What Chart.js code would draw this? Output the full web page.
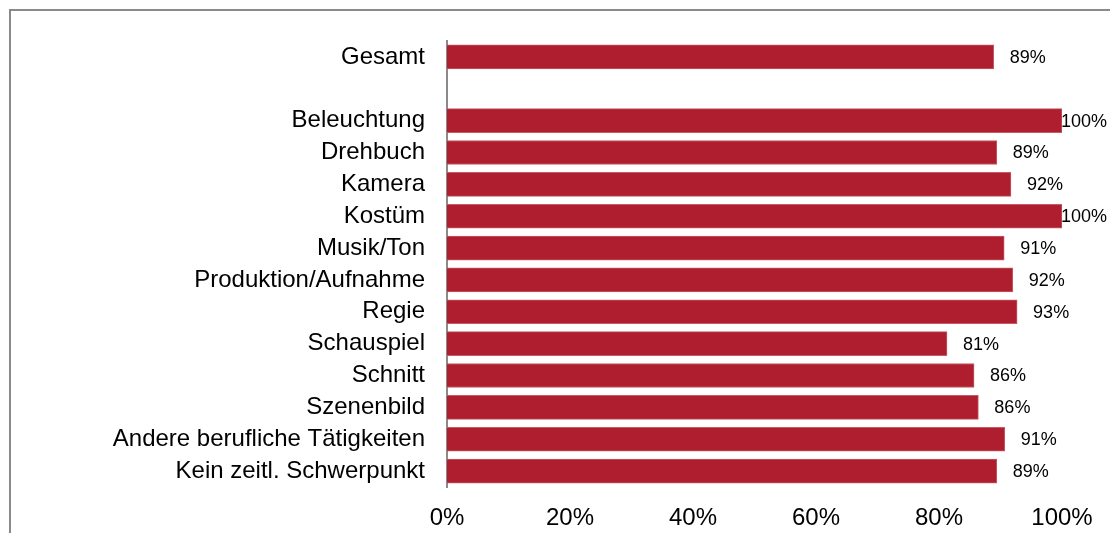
<!DOCTYPE html>
<html>
<head>
<meta charset="utf-8">
<script src="https://cdn.jsdelivr.net/npm/chart.js@4.4.1/dist/chart.umd.min.js"></script>
<style>
  html, body { margin: 0; padding: 0; background: #ffffff; }
  #wrap { width: 1110px; height: 533px; position: relative; }
</style>
</head>
<body>
<div id="wrap"><canvas id="c" width="1110" height="533"></canvas></div>
<script>
const categories = [
  'Gesamt', '',
  'Beleuchtung', 'Drehbuch', 'Kamera', 'Kostüm', 'Musik/Ton',
  'Produktion/Aufnahme', 'Regie', 'Schauspiel', 'Schnitt', 'Szenenbild',
  'Andere berufliche Tätigkeiten', 'Kein zeitl. Schwerpunkt'
];
const shares = [88.9, null, 100, 89.4, 91.7, 100, 90.6, 92.0, 92.7, 81.3, 85.7, 86.4, 90.7, 89.4];
const xTicks = [0, 20, 40, 60, 80, 100];

const FONT = "'Liberation Sans', Arial, 'DejaVu Sans', sans-serif";

const framePlugin = {
  id: 'frame',
  beforeDraw(chart) {
    const ctx = chart.ctx;
    ctx.save();
    ctx.strokeStyle = '#8a8a8a';
    ctx.lineWidth = 2;
    ctx.beginPath();
    ctx.moveTo(10, 533);
    ctx.lineTo(10, 10);
    ctx.lineTo(1110, 10);
    ctx.stroke();
    ctx.restore();
  }
};

const labelPlugin = {
  id: 'valueLabels',
  afterDatasetsDraw(chart) {
    const ctx = chart.ctx;
    const meta = chart.getDatasetMeta(0);
    ctx.save();
    ctx.font = '18px ' + FONT;
    ctx.fillStyle = '#000000';
    ctx.textBaseline = 'middle';
    ctx.textAlign = 'left';
    meta.data.forEach((bar, i) => {
      const v = shares[i];
      if (v === null || v === undefined) return;
      const txt = Math.round(v) + '%';
      const w = ctx.measureText(txt).width;
      let x = bar.x + 16;
      if (x + w > 1107) x = 1107 - w;
      ctx.fillText(txt, x, bar.y + 1);
    });
    ctx.restore();
  }
};

new Chart(document.getElementById('c'), {
  type: 'bar',
  data: {
    labels: categories,
    datasets: [{
      data: shares,
      backgroundColor: '#AE1E2E',
      borderColor: '#C65A66',
      borderWidth: 1,
      borderSkipped: 'start',
      barThickness: 24
    }]
  },
  options: {
    indexAxis: 'y',
    responsive: false,
    animation: false,
    devicePixelRatio: 1,
    layout: { padding: { left: 0, top: 41, right: 48, bottom: 0 } },
    plugins: {
      legend: { display: false },
      tooltip: { enabled: false }
    },
    scales: {
      x: {
        type: 'linear',
        min: 0,
        max: 100,
        afterBuildTicks(scale) { scale.ticks = xTicks.map(v => ({ value: v })); },
        afterFit(scale) { scale.height = 46; },
        grid: { display: false, drawTicks: false },
        border: { display: false },
        ticks: {
          padding: 17,
          color: '#000000',
          font: { family: FONT, size: 24 },
          callback: v => v + '%',
          maxRotation: 0
        }
      },
      y: {
        type: 'category',
        afterFit(scale) { scale.width = 447; },
        grid: { display: false, drawTicks: false },
        border: { display: true, color: '#8a8a8a', width: 2 },
        ticks: {
          padding: 22,
          color: '#000000',
          font: { family: FONT, size: 24 },
          autoSkip: false
        }
      }
    }
  },
  plugins: [framePlugin, labelPlugin]
});
</script>
</body>
</html>
